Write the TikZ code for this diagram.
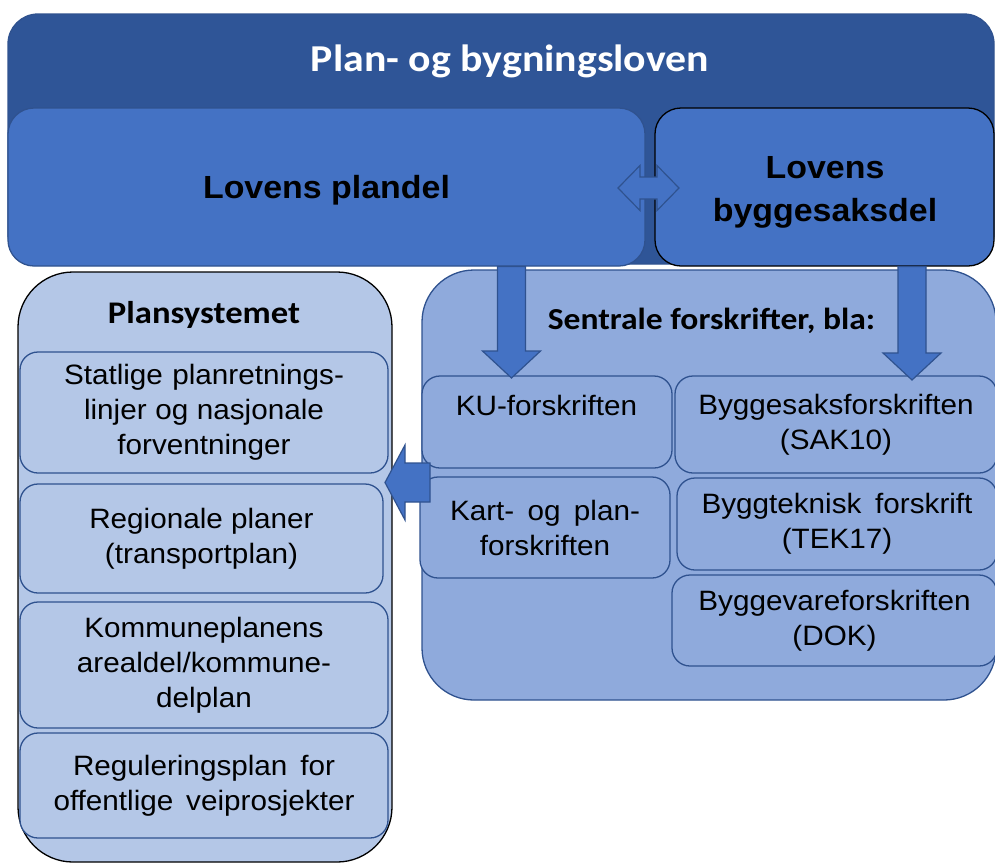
\documentclass[tikz,border=0pt]{standalone}
\usepackage{fontspec}
\setmainfont{Liberation Sans}[FakeStretch=1.06]
\newfontfamily\calib{Carlito}[FakeStretch=1.1]
\usetikzlibrary{calc}
\definecolor{lawblue}{HTML}{2F5597}
\definecolor{partblue}{HTML}{4472C4}
\definecolor{planfill}{HTML}{B4C7E7}
\definecolor{forsfill}{HTML}{8FAADC}
\definecolor{edgeblue}{HTML}{2F528F}
\newcommand\bodysize{\fontsize{28}{35}\selectfont}
\newcommand\partsize{\fontsize{32}{43}\selectfont\bfseries}
\begin{document}
\begin{tikzpicture}[x=1pt,y=-1pt,
  every node/.style={inner sep=0pt,outer sep=0pt},
  box/.style={draw=edgeblue, line width=1.3pt},
  partbox/.style={box, fill=partblue, rounded corners=26pt, minimum height=158pt},
  plansub/.style={box, fill=planfill, rounded corners=18pt, align=center, font=\bodysize},
  forssub/.style={box, fill=forsfill, rounded corners=18pt, align=center, font=\bodysize},
  blockarrow/.style={fill=partblue, draw=edgeblue, line width=1.2pt, line join=miter},
  hd/.style={font=\calib\bfseries\fontsize{30.5}{36}\selectfont}
]
\useasboundingbox (0,0) rectangle (995,863);
\clip (0,0) rectangle (995,863);

% top law box
\node[box, fill=lawblue, rounded corners=30pt, minimum width=986pt, minimum height=250pt] (law) at (501,139) {};
\node[font=\calib\bfseries\fontsize{38}{45}\selectfont, text=white, anchor=base] (lawtitle) at (510,71) {Plan- og bygningsloven};

% two parts
\node[partbox, minimum width=637pt] (plandel) at (326.5,187) {};
\node[font=\partsize, anchor=base] (plandeltxt) at (326.5,198) {Lovens plandel};
\node[partbox, draw=black, minimum width=339pt] (byggdel) at (824.5,187) {};
\node[font=\partsize, align=center] (byggdeltxt) at (825,192) {Lovens\\byggesaksdel};

% double arrow between parts
\coordinate (dl) at (618,188);
\coordinate (dr) at (679,188);
\draw[blockarrow] (dl) -- ($(dl)+(22,-22.5)$) -- ($(dl)+(22,-11)$) -- ($(dr)+(-22,-11)$) -- ($(dr)+(-22,-22.5)$) -- (dr)
  -- ($(dr)+(-22,22.5)$) -- ($(dr)+(-22,11)$) -- ($(dl)+(22,11)$) -- ($(dl)+(22,22.5)$) -- cycle;

% plansystemet
\node[box, draw=black, fill=planfill, rounded corners=55pt, minimum width=374pt, minimum height=590pt] (plansys) at (205,567) {};
\node[font=\calib\bfseries\fontsize{31.5}{36}\selectfont, anchor=base] (plansystxt) at (204,323) {Plansystemet};
\node[plansub, minimum width=368pt, minimum height=121pt] (spr) at (204,412.5)
  {\makebox[280pt][s]{Statlige planretnings-}\\\makebox[240pt][s]{linjer og nasjonale}\\forventninger};
\node[plansub, minimum width=363pt, minimum height=109pt] (reg) at (201.5,538.5)
  {Regionale planer\\(transportplan)};
\node[plansub, minimum width=368pt, minimum height=126pt] (kpa) at (204,665)
  {Kommuneplanens\\arealdel/kommune-\\delplan};
\node[plansub, minimum width=368pt, minimum height=105pt] (rp) at (204,785.5)
  {\makebox[262pt][s]{Reguleringsplan for}\\\makebox[301pt][s]{offentlige veiprosjekter}};

% sentrale forskrifter
\node[box, fill=forsfill, rounded corners=52pt, minimum width=574pt, minimum height=430pt] (fors) at (709,485) {};
\node[hd, anchor=base] (forstxt) at (711.5,329) {Sentrale forskrifter, bla:};
\node[forssub, minimum width=250pt, minimum height=92pt] (ku) at (547,422) {};
\node[font=\bodysize, anchor=base] (kutxt) at (546.5,415) {KU-forskriften};
\node[forssub, minimum width=250pt, minimum height=101pt] (kart) at (545,527.5)
  {\makebox[190pt][s]{Kart- og plan-}\\forskriften};
\node[forssub, minimum width=322pt, minimum height=97pt] (sak) at (836,424.5)
  {Byggesaksforskriften\\(SAK10)};
\node[forssub, minimum width=320pt, minimum height=92pt] (tek) at (837,524)
  {\makebox[271pt][s]{Byggteknisk forskrift}\\(TEK17)};
\node[forssub, minimum width=325pt, minimum height=91pt] (dok) at (834.5,620.5)
  {Byggevareforskriften\\(DOK)};

% down arrows
\coordinate (a1s) at (511.5,266.5);
\coordinate (a1e) at (511.5,378);
\draw[blockarrow] ($(a1s)+(-14,0)$) -- ($(a1s)+(14,0)$) -- ($(a1e)+(14,-27)$) -- ($(a1e)+(29,-27)$) -- (a1e)
  -- ($(a1e)+(-29,-27)$) -- ($(a1e)+(-14,-27)$) -- cycle;
\coordinate (a2s) at (912,266.5);
\coordinate (a2e) at (912,380);
\draw[blockarrow] ($(a2s)+(-14,0)$) -- ($(a2s)+(14,0)$) -- ($(a2e)+(14,-27)$) -- ($(a2e)+(29,-27)$) -- (a2e)
  -- ($(a2e)+(-29,-27)$) -- ($(a2e)+(-14,-27)$) -- cycle;

% left arrow
\coordinate (a3s) at (430,482.5);
\coordinate (a3e) at (385,482.5);
\draw[blockarrow] ($(a3s)+(0,-19.5)$) -- ($(a3s)+(0,19.5)$) -- ($(a3e)+(20,19.5)$) -- ($(a3e)+(20,37.5)$) -- (a3e)
  -- ($(a3e)+(20,-37.5)$) -- ($(a3e)+(20,-19.5)$) -- cycle;
\end{tikzpicture}
\end{document}
